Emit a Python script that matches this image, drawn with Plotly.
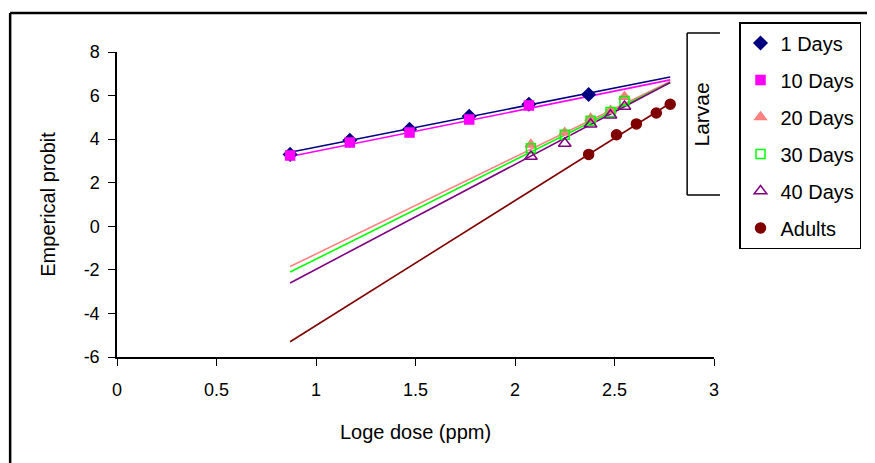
import plotly.graph_objects as go

# ---- data ----
series_names = ["1 Days", "10 Days", "20 Days", "30 Days", "40 Days", "Adults"]

x_1d = [0.87, 1.17, 1.47, 1.77, 2.07, 2.37]
y_1d = [3.3, 3.95, 4.45, 5.05, 5.6, 6.05]

x_10d = [0.87, 1.17, 1.47, 1.77, 2.07]
y_10d = [3.25, 3.85, 4.3, 4.9, 5.55]

x_20d = [2.08, 2.25, 2.38, 2.48, 2.55]
y_20d = [3.75, 4.3, 4.95, 5.3, 5.95]

x_30d = [2.08, 2.25, 2.38, 2.48, 2.55]
y_30d = [3.58, 4.2, 4.85, 5.25, 5.75]

x_40d = [2.08, 2.25, 2.38, 2.48, 2.55]
y_40d = [3.2, 3.8, 4.68, 5.1, 5.5]

x_ad = [2.37, 2.51, 2.61, 2.71, 2.78]
y_ad = [3.3, 4.2, 4.7, 5.2, 5.6]

# fitted regression lines (values at the line ends)
fit_x = [0.87, 2.78]
fit_1d = [3.4, 6.85]
fit_10d = [3.2, 6.72]
fit_20d = [-1.85, 6.65]
fit_30d = [-2.1, 6.6]
fit_40d = [-2.6, 6.6]
fit_ad = [-5.3, 5.65]

x_ticks = [0, 0.5, 1, 1.5, 2, 2.5, 3]
x_tick_labels = ["0", "0.5", "1", "1.5", "2", "2.5", "3"]
y_ticks = [-6, -4, -2, 0, 2, 4, 6, 8]
y_tick_labels = ["-6", "-4", "-2", "0", "2", "4", "6", "8"]

# ---- styles ----
styles = [
    dict(color="#000080", symbol="diamond", size=10),
    dict(color="#FF00FF", symbol="square", size=9),
    dict(color="#FF8080", symbol="triangle-up", size=10),
    dict(color="#00FF00", symbol="square-open", size=9),
    dict(color="#800080", symbol="triangle-up-open", size=11),
    dict(color="#800000", symbol="circle", size=10),
]
xs = [x_1d, x_10d, x_20d, x_30d, x_40d, x_ad]
ys = [y_1d, y_10d, y_20d, y_30d, y_40d, y_ad]
fits = [fit_1d, fit_10d, fit_20d, fit_30d, fit_40d, fit_ad]

FONT = "Liberation Sans, Arial, sans-serif"
W, H = 867, 455

fig = go.Figure()
for name, st, fy in zip(series_names, styles, fits):
    fig.add_trace(go.Scatter(x=fit_x, y=fy, mode="lines",
                             line=dict(color=st["color"], width=1.6),
                             showlegend=False, hoverinfo="skip"))
for name, st, x, y in zip(series_names, styles, xs, ys):
    fig.add_trace(go.Scatter(x=x, y=y, mode="markers", name=name,
                             legendgroup=name,
                             marker=dict(color=st["color"], symbol=st["symbol"],
                                         size=st["size"],
                                         line=dict(color=st["color"], width=1.5))))

fig.update_layout(
    width=W, height=H,
    margin=dict(l=109, r=161, t=44, b=106, autoexpand=False),
    paper_bgcolor="white", plot_bgcolor="white",
    font=dict(family=FONT, color="black", size=18),
    showlegend=True,
    legend=dict(xref="container", yref="container",
                x=731 / W, y=1 - 14 / H, xanchor="left", yanchor="top",
                bordercolor="black", borderwidth=1.5,
                font=dict(size=20, family=FONT),
                tracegroupgap=8, itemwidth=30,
                bgcolor="white"),
    xaxis=dict(range=[0, 3], tickvals=x_ticks, ticktext=x_tick_labels,
               showgrid=False, zeroline=False, showline=True, linecolor="black",
               linewidth=1.5, ticks="outside", ticklen=7, tickcolor="black",
               ticklabelstandoff=9,
               tickfont=dict(size=18), title=dict(text="Loge dose (ppm)",
               font=dict(size=20), standoff=26)),
    yaxis=dict(range=[-6, 8], tickvals=y_ticks, ticktext=y_tick_labels,
               showgrid=False, zeroline=False,
               showline=True, linecolor="black", linewidth=1.5,
               ticks="outside", ticklen=7, tickcolor="black",
               ticklabelstandoff=5,
               tickfont=dict(size=18), title=dict(text="Emperical probit",
               font=dict(size=20), standoff=23)),
)

# outer frame (left and top edges visible)
fig.add_shape(type="line", xref="paper", yref="paper",
              x0=-0.179, x1=-0.179, y0=1.128, y1=-0.4,
              line=dict(color="black", width=2.5))
fig.add_shape(type="line", xref="paper", yref="paper",
              x0=-0.179, x1=1.35, y0=1.128, y1=1.128,
              line=dict(color="black", width=2.5))

# Larvae bracket
bx0, bx1 = 0.955, 1.010
by_top, by_bot = 1.062, 0.531
fig.add_shape(type="line", xref="paper", yref="paper", x0=bx0, x1=bx0,
              y0=by_top, y1=by_bot, line=dict(color="black", width=1.5))
fig.add_shape(type="line", xref="paper", yref="paper", x0=bx0, x1=bx1,
              y0=by_top, y1=by_top, line=dict(color="black", width=1.5))
fig.add_shape(type="line", xref="paper", yref="paper", x0=bx0, x1=bx1,
              y0=by_bot, y1=by_bot, line=dict(color="black", width=1.5))
fig.add_annotation(text="Larvae", xref="paper", yref="paper", x=0.979,
                   xanchor="center", yanchor="middle",
                   y=(by_top + by_bot) / 2, textangle=-90, showarrow=False,
                   font=dict(size=21, family=FONT))

fig.write_html("out.html")
